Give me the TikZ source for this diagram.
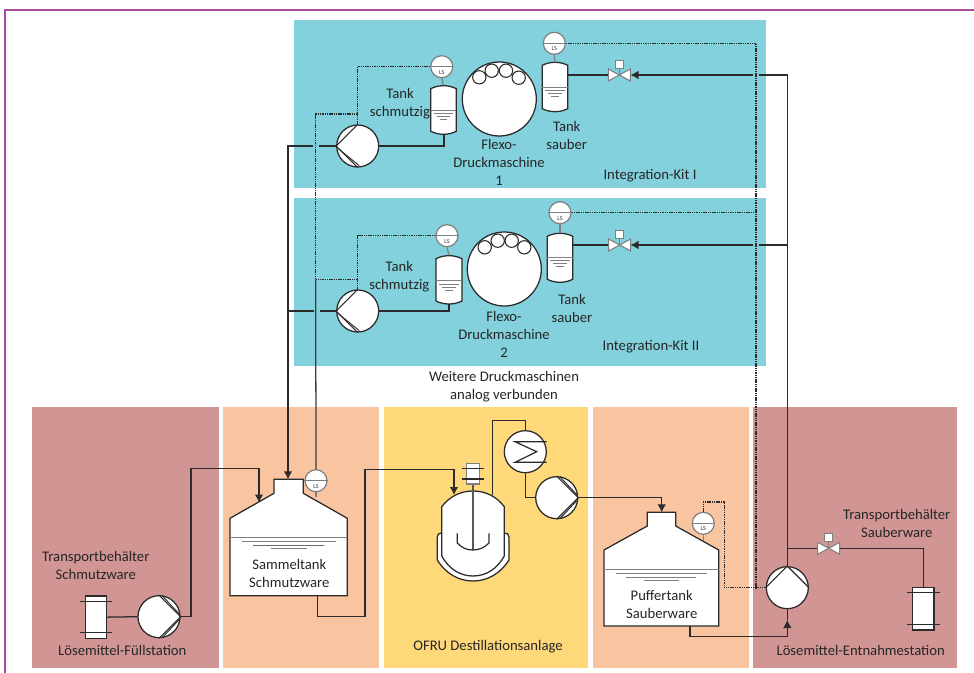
\documentclass[tikz,border=0pt]{standalone}
\usepackage{fontspec}
\setmainfont{Carlito}
\usetikzlibrary{arrows.meta,calc}
\definecolor{kitcyan}{HTML}{82D1DC}
\definecolor{panelred}{HTML}{D19594}
\definecolor{panelorange}{HTML}{F9C5A1}
\definecolor{panelyellow}{HTML}{FFD87A}
\definecolor{framecol}{HTML}{A84A9E}
\definecolor{linecol}{HTML}{2B2B2B}
\definecolor{gline}{HTML}{7F7F7F}
\tikzset{
  panel/.style={fill=#1,draw=none},
  pipe/.style={draw=linecol,line width=0.95pt,line join=miter},
  pipearrow/.style={pipe,-{Latex[length=6pt,width=6.5pt]}},
  signal/.style={draw=linecol,line width=1pt,dash pattern=on 1.1pt off 0.6pt},
  signalsolid/.style={draw=linecol!92!white,line width=0.95pt},
  equip/.style={draw=linecol,line width=0.95pt,fill=white},
  pumpnode/.style={circle,equip,minimum size=31.5pt,inner sep=0pt},
  rollnode/.style={circle,equip,minimum size=10pt,inner sep=0pt,line width=0.8pt},
  drumnode/.style={circle,equip,minimum size=55.5pt,inner sep=0pt},
  lsnode/.style={circle,draw=gline,line width=0.9pt,fill=white,minimum size=16.5pt,inner sep=0pt},
  txt/.style={align=center,font=\fontsize{11}{13.5}\selectfont,text=black!85,inner sep=0pt},
  lvl/.style={draw=gline,line width=0.7pt},
  hidden/.style={rectangle,inner sep=0pt,draw=none},
}
% instrument circle: name, x, y
\newcommand{\lsinst}[3]{%
  \node[lsnode] (#1) at (#2,#3) {};
  \draw[gline,line width=0.8pt] (#1.west) -- (#1.east);
  \node[inner sep=0pt,font=\fontsize{4.6}{5}\selectfont,text=black!80] (#1t) at (#2,#3+5.4) {LS};
}
% small tank: name, x-left, x-right, y-top, y-bottom, y-level
\newcommand{\smalltank}[6]{%
  \draw[equip] (#2,#4+3) .. controls (#2+8,#4-1) and (#3-8,#4-1) .. (#3,#4+3) -- (#3,#5-3) .. controls (#3-8,#5+1) and (#2+8,#5+1) .. (#2,#5-3) -- cycle;
  \node[hidden,minimum width=19.2pt,minimum height=36.5pt] (#1) at ({(#2+#3)/2},{(#4+#5)/2}) {};
  \draw[gline,line width=0.7pt] (#2,#6) -- (#3,#6);
  \draw[lvl] (#2+3,#6+3.5) -- (#3-3,#6+3.5);
  \draw[lvl] (#2+6,#6+6.5) -- (#3-6,#6+6.5);
  \draw[lvl] (#2+9,#6+9.5) -- (#3-9,#6+9.5);
}
% valve: name, x, y
\newcommand{\valve}[3]{%
  \draw[gline,line width=0.7pt] (#2,#3) -- (#2,#3-6);
  \draw[draw=gline,fill=white,line width=0.8pt] (#2,#3) -- (#2-11,#3-6) -- (#2-11,#3+6) -- cycle;
  \draw[draw=gline,fill=white,line width=0.8pt] (#2,#3) -- (#2+11,#3-6) -- (#2+11,#3+6) -- cycle;
  \node[hidden,draw=gline,fill=white,line width=0.8pt,minimum size=6.2pt] (#1sq) at (#2,#3-10.5) {};
  \node[hidden,minimum width=16.5pt,minimum height=9pt] (#1) at (#2,#3) {};
}
% big tank: name, xl, xr, neck-l, neck-r, y-top, y-neck, y-shoulder, y-bottom
\newcommand{\bigtank}[9]{%
  \draw[equip,line join=miter] (#2,#8) -- (#4,#7) -- (#4,#6) -- (#5,#6) -- (#5,#7) -- (#3,#8) -- (#3,#9) -- (#2,#9) -- cycle;
  \node[hidden,minimum width=1pt,minimum height=1pt] (#1) at ({(#2+#3)/2},{(#6+#9)/2}) {};
}
% transport container: name, xl, xr, yt, yb, bar1, bar2
\newcommand{\transcont}[7]{%
  \node[rectangle,equip,inner sep=0pt,minimum width={(#3-#2)*0.75pt},minimum height={(#5-#4)*0.75pt}] (#1) at ({(#2+#3)/2},{(#4+#5)/2}) {};
  \draw[linecol,line width=0.8pt] (#2-5.5,#6) -- (#3+5.5,#6);
  \draw[linecol,line width=0.8pt] (#2-5.5,#7) -- (#3+5.5,#7);
}
\begin{document}
\begin{tikzpicture}[x=0.75pt,y=-0.75pt]
\useasboundingbox (0,0) rectangle (974,673);
\fill[white] (0,0) rectangle (974,673);
% frame
\draw[framecol,line width=1pt] (974,10) -- (5,10) -- (5,673);
% panels
\fill[panel=kitcyan] (294,20) rectangle (766,188);
\fill[panel=kitcyan] (294,198) rectangle (766,366);
\fill[panel=panelred] (32,407) rectangle (219,668);
\fill[panel=panelorange] (223,407) rectangle (379,668);
\fill[panel=panelyellow] (384,407) rectangle (588,668);
\fill[panel=panelorange] (593,407) rectangle (749,668);
\fill[panel=panelred] (753,407) rectangle (957,668);

% equipment nodes
\node[pumpnode] (pumpA) at (357.7,146) {};
\node[pumpnode] (pumpB) at (357.7,311) {};
\node[pumpnode] (pumpFill) at (159,616.7) {};
\node[pumpnode] (pumpDist) at (556.7,497.7) {};
\node[pumpnode] (pumpTake) at (787.3,587.7) {};
\node[pumpnode] (cond) at (525.3,451.7) {};
\node[drumnode] (drumA) at (499.3,99) {};
\node[drumnode] (drumB) at (504.3,269) {};
\node[rollnode] (rA1) at (479.3,77.3) {};
\node[rollnode] (rA2) at (491.7,70.7) {};
\node[rollnode] (rA3) at (506,70.7) {};
\node[rollnode] (rA4) at (518.7,77.7) {};
\node[rollnode] (rB1) at (484.7,247.3) {};
\node[rollnode] (rB2) at (497.7,240.7) {};
\node[rollnode] (rB3) at (511.7,240.7) {};
\node[rollnode] (rB4) at (524.3,247.3) {};

\smalltank{dirtyA}{430.7}{456.3}{85.7}{134.3}{110}
\smalltank{cleanA}{542.3}{567.7}{62.3}{111.7}{87}
\smalltank{dirtyB}{436}{462}{255.7}{304}{280.7}
\smalltank{cleanB}{547.3}{572.7}{233.3}{282.3}{257.3}
\lsinst{lsDirtyA}{441.7}{66.7}
\lsinst{lsCleanA}{554.3}{43.3}
\lsinst{lsDirtyB}{447}{235.7}
\lsinst{lsCleanB}{560}{212.7}
\valve{valveA}{619.3}{75}
\valve{valveB}{619.7}{245}
\valve{valveC}{828.7}{548.3}
\transcont{contFill}{85.7}{106.7}{596}{638.3}{601.3}{632.7}
\transcont{contTake}{912.7}{934}{587.3}{630}{592.7}{624.3}

% big tanks
\bigtank{sammel}{230}{347.3}{274}{303.3}{479.3}{493.3}{518.3}{595.7}
\draw[gline,line width=0.9pt] (230,537.3) -- (347.3,537.3);
\draw[lvl] (242,541) -- (336,541);
\draw[linecol!70!white,line width=0.7pt] (253,545) -- (324,545);
\draw[lvl] (271,548) -- (307,548);
\bigtank{puffer}{604}{718.7}{647.3}{675.7}{512.3}{526}{550}{626}
\draw[gline,line width=0.7pt] (604,569.3) -- (718.7,569.3);
\draw[lvl] (616,573) -- (707,573);
\draw[lvl] (626,577) -- (696,577);
\draw[lvl] (644,580) -- (679,580);
\lsinst{lsSammel}{316}{480.7}
\lsinst{lsPuffer}{703.3}{523.3}

% reactor
\draw[equip] (437.3,537) .. controls (437.3,534) and (439,533) .. (441.7,533) -- (504.3,533) .. controls (507,533) and (509,534) .. (509,537) -- (509,560) .. controls (500,574) and (487,581) .. (473,581) .. controls (459,581) and (446,574) .. (437.3,560) -- cycle;
\draw[equip] (441.7,506.7) .. controls (449,497) and (460,491) .. (473,491) .. controls (486,491) and (497,497) .. (504.3,506.7) -- (504.3,556) .. controls (497,569) and (486,576) .. (473,576) .. controls (460,576) and (449,569) .. (441.7,556) -- cycle;
\node[hidden,minimum width=40pt,minimum height=50pt] (reactor) at (473,533) {};
\node[rectangle,draw=gline,fill=white,line width=0.8pt,inner sep=0pt,minimum width=9.5pt,minimum height=15.7pt] (motor) at (473,473.5) {};
\draw[linecol,line width=0.8pt] (462.3,468.3) -- (484,468.3);
\draw[linecol,line width=0.8pt] (462.3,479) -- (484,479);
\coordinate (shaftEnd) at (473,550);
\draw[gline!70!black,line width=0.9pt] (motor.south) -- (shaftEnd);
\draw[linecol,line width=0.9pt] (457.3,533.3) -- (457.3,543) .. controls (462,548) and (467,550) .. (472.7,550) .. controls (479,550) and (484,548) .. (489,543) -- (489,533.3);

% pump wings
\foreach \p in {pumpA,pumpB} {
  \draw[linecol,line width=0.85pt] (\p.north) -- (\p.west) -- (\p.south);
  \draw[linecol,line width=0.7pt] ($(\p.west)+(2,2.5)$) -- ($(\p.south)+(1.5,-2)$);
}
\foreach \p in {pumpFill,pumpDist} {
  \draw[linecol,line width=0.85pt] (\p.north) -- (\p.east) -- (\p.south);
  \draw[linecol,line width=0.7pt] ($(\p.north)+(3,0.5)$) -- ($(\p.east)+(-1.5,-3)$);
  \draw[linecol,line width=0.7pt] ($(\p.south)+(3,-0.5)$) -- ($(\p.east)+(-1.5,3)$);
}
\draw[linecol,line width=0.85pt] (pumpTake.west) -- (pumpTake.north) -- (pumpTake.east);
% condenser zigzag
\coordinate (zzA) at (546.7,441.7);
\coordinate (zzB) at (515,441.7);
\coordinate (zzC) at (536.7,451.7);
\coordinate (zzD) at (515,462.3);
\coordinate (zzE) at (546.7,462.3);
\draw[linecol,line width=0.9pt] (zzA) -- (zzB) -- (zzC) -- (zzD) -- (zzE);

% stems
\draw[gline,line width=0.9pt] (lsDirtyA.south) -- (dirtyA.north);
\draw[gline,line width=0.9pt] (lsCleanA.south) -- (cleanA.north);
\draw[gline,line width=0.9pt] (lsDirtyB.south) -- (dirtyB.north);
\draw[gline,line width=0.9pt] (lsCleanB.south) -- (cleanB.north);
\coordinate (shoulderS) at (316,497);
\coordinate (shoulderP) at (703.3,541);
\draw[gline,line width=0.9pt] (lsSammel.south) -- (shoulderS);
\draw[gline,line width=0.9pt] (lsPuffer.south) -- (shoulderP);

% named bends and junctions
\coordinate (dirtOutA) at (444,146);
\coordinate (dirtOutB) at (449,311);
\coordinate (dirtEndA) at (444,134.3);
\coordinate (dirtEndB) at (449,304);
\coordinate (gapAl) at (319,146);
\coordinate (gapAr) at (313,146);
\coordinate (gapBl) at (320,311);
\coordinate (gapBr) at (314,311);
\coordinate (collA) at (288,146);
\coordinate (collB) at (288,311);
\coordinate (sammelTop) at (288,479.3);
\coordinate (sigA) at (357.7,114);
\coordinate (sigB) at (357.7,279.3);
\coordinate (sigMainA) at (315.7,114);
\coordinate (sigMainB) at (315.7,279.3);
\coordinate (lsTopA) at (357.7,66.7);
\coordinate (lsTopB) at (357.7,235.7);
\coordinate (cleanOutA) at (567.7,75);
\coordinate (cleanOutB) at (572.7,245);
\coordinate (valveArrA) at (630.5,75);
\coordinate (valveArrB) at (630.5,245);
\coordinate (gapCl) at (752.7,75);
\coordinate (gapCr) at (759.3,75);
\coordinate (gapDl) at (752.7,245);
\coordinate (gapDr) at (759.3,245);
\coordinate (riserA) at (787.3,75);
\coordinate (riserB) at (787.3,245);
\coordinate (riserC) at (787.3,548.3);
\coordinate (sigCl) at (756,43.3);
\coordinate (sigCm) at (756,212.7);
\coordinate (sigCb) at (756,587.7);
\coordinate (sigD) at (724.3,587.7);
\coordinate (sigE) at (724.3,502);
\coordinate (sigF) at (703.3,502);

% kit pipes
\draw[pipe] (pumpA.east) -- (dirtOutA) -- (dirtEndA);
\draw[pipe] (pumpB.east) -- (dirtOutB) -- (dirtEndB);
\draw[pipe] (pumpA.west) -- (gapAl);
\draw[pipe] (pumpB.west) -- (gapBl);
\draw[pipe] (gapBr) -- (collB);
\draw[pipearrow] (gapAr) -- (collA) -- (sammelTop);
\draw[pipe] (cleanOutA) -- (valveA);
\draw[pipe] (cleanOutB) -- (valveB);
\draw[pipearrow] (gapCl) -- (valveArrA);
\draw[pipearrow] (gapDl) -- (valveArrB);
\draw[pipe] (gapCr) -- (riserA) -- (pumpTake.north);
\draw[pipe] (gapDr) -- (riserB);

% signal lines
\draw[signal] (lsDirtyA.west) -- (lsTopA) -- (pumpA.north);
\draw[signal] (lsDirtyB.west) -- (lsTopB) -- (pumpB.north);
\draw[signal] (sigA) -- (sigMainA) -- (sigMainB);
\draw[signal] (sigB) -- (sigMainB);
\draw[signalsolid] (sigMainB) -- (lsSammel.north);
\draw[signal] (lsCleanA.east) -- (sigCl) -- (sigCb);
\draw[signal] (lsCleanB.east) -- (sigCm);
\draw[signal] (pumpTake.west) -- (sigD) -- (sigE) -- (sigF) -- (lsPuffer.north);

% bottom pipes
\coordinate (fillA) at (191,616.7);
\coordinate (fillB) at (191,468.3);
\coordinate (fillC) at (259,468.3);
\coordinate (fillTip) at (259,502.5);
\draw[pipe] (contFill.east) -- (pumpFill.west);
\draw[pipearrow] (pumpFill.east) -- (fillA) -- (fillB) -- (fillC) -- (fillTip);
\coordinate (sOutA) at (317.7,595.7);
\coordinate (sOutB) at (317.7,616.7);
\coordinate (sOutC) at (365,616.7);
\coordinate (sOutD) at (365,469.3);
\coordinate (sOutE) at (454,469.3);
\coordinate (sOutTip) at (454,495);
\draw[pipearrow] (sOutA) -- (sOutB) -- (sOutC) -- (sOutD) -- (sOutE) -- (sOutTip);
\coordinate (vapA) at (492.3,495);
\coordinate (vapB) at (492.3,420.7);
\coordinate (vapC) at (525.3,420.7);
\draw[pipe] (vapA) -- (vapB) -- (vapC) -- (cond.north);
\coordinate (condB) at (525.3,497.7);
\draw[pipe] (cond.south) -- (condB) -- (pumpDist.west);
\coordinate (distA) at (661.7,497.7);
\coordinate (distTip) at (661.7,512.3);
\draw[pipearrow] (pumpDist.east) -- (distA) -- (distTip);
\coordinate (pOutA) at (690,626);
\coordinate (pOutB) at (690,636.7);
\coordinate (pOutC) at (787.3,636.7);
\coordinate (pOutTip) at (787.3,620);
\draw[pipearrow] (pOutA) -- (pOutB) -- (pOutC) -- (pOutTip);
\draw[pipe] (pOutTip) -- (pumpTake.south);
\coordinate (takeA) at (923.3,548.3);
\draw[pipe] (riserC) -- (valveC);
\draw[pipe] (valveC) -- (takeA) -- (takeA |- contTake.north);

% labels
\node[txt] (tA) at (400,104) {Tank\\schmutzig};
\node[txt] (fA) at (499,162) {Flexo-\\Druckmaschine\\1};
\node[txt] (sA) at (566.7,135) {Tank\\sauber};
\node[txt] (kA) at (650,175.7) {Integration-Kit I};
\node[txt] (tB) at (399.3,276.7) {Tank\\schmutzig};
\node[txt] (fB) at (504,334.5) {Flexo-\\Druckmaschine\\2};
\node[txt] (sB) at (572,308.5) {Tank\\sauber};
\node[txt] (kB) at (651,347) {Integration-Kit II};
\node[txt] (weiter) at (504,387) {Weitere Druckmaschinen\\analog verbunden};
\node[txt] (tF) at (95.8,565) {Transportbehälter\\Schmutzware};
\node[txt] (lF) at (122.3,650.3) {Lösemittel-Füllstation};
\node[txt] (lS) at (289.3,573) {Sammeltank\\Schmutzware};
\node[txt] (lO) at (488,647) {OFRU Destillationsanlage};
\node[txt] (lP) at (661.7,604.3) {Puffertank\\Sauberware};
\node[txt] (tT) at (896.7,523) {Transportbehälter\\Sauberware};
\node[txt] (lT) at (860.7,650.3) {Lösemittel-Entnahmestation};
\end{tikzpicture}
\end{document}
